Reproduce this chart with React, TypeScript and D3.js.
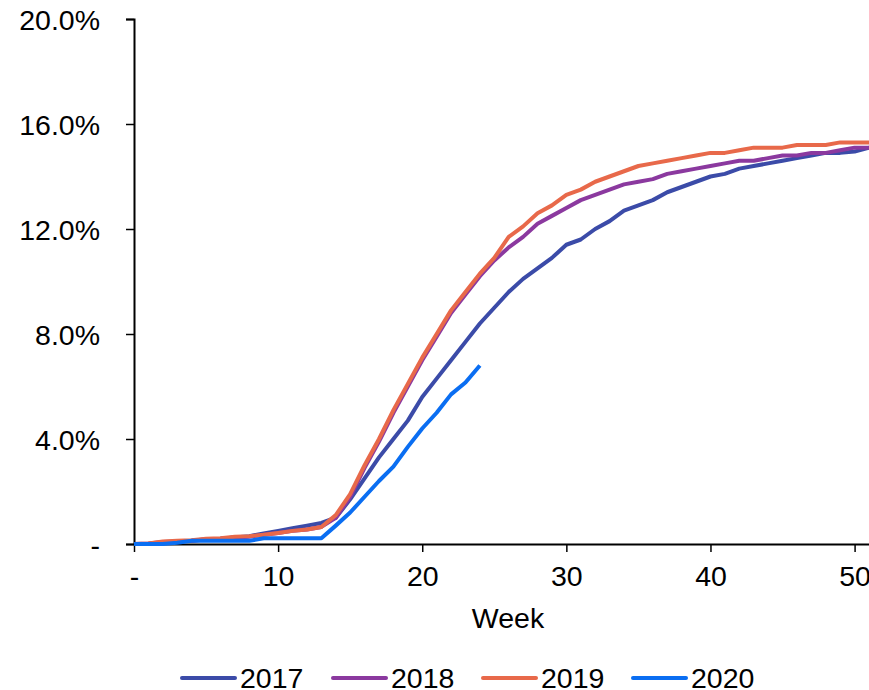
import React, { useEffect, useRef } from "react";
import * as d3 from "d3";

// Cumulative share (%) by week of year
const weeks2017 = d3.range(0, 52);
const values2017 = [0, 0, 0.05, 0.1, 0.12, 0.17, 0.2, 0.25, 0.3, 0.4, 0.5, 0.6, 0.7, 0.8, 1.0, 1.7, 2.5, 3.3, 4.0, 4.7, 5.6, 6.3, 7.0, 7.7, 8.4, 9.0, 9.6, 10.1, 10.5, 10.9, 11.4, 11.6, 12.0, 12.3, 12.7, 12.9, 13.1, 13.4, 13.6, 13.8, 14.0, 14.1, 14.3, 14.4, 14.5, 14.6, 14.7, 14.8, 14.9, 14.9, 14.95, 15.1];
const values2018 = [0, 0.02, 0.08, 0.1, 0.12, 0.18, 0.2, 0.25, 0.28, 0.35, 0.42, 0.5, 0.55, 0.65, 1.0, 1.8, 2.9, 3.9, 5.0, 6.0, 7.0, 7.9, 8.8, 9.5, 10.2, 10.8, 11.3, 11.7, 12.2, 12.5, 12.8, 13.1, 13.3, 13.5, 13.7, 13.8, 13.9, 14.1, 14.2, 14.3, 14.4, 14.5, 14.6, 14.6, 14.7, 14.8, 14.8, 14.9, 14.9, 15.0, 15.1, 15.1];
const values2019 = [0, 0.02, 0.1, 0.12, 0.14, 0.2, 0.22, 0.28, 0.3, 0.35, 0.42, 0.5, 0.55, 0.65, 1.1, 1.9, 3.0, 4.0, 5.1, 6.1, 7.1, 8.0, 8.9, 9.6, 10.3, 10.9, 11.7, 12.1, 12.6, 12.9, 13.3, 13.5, 13.8, 14.0, 14.2, 14.4, 14.5, 14.6, 14.7, 14.8, 14.9, 14.9, 15.0, 15.1, 15.1, 15.1, 15.2, 15.2, 15.2, 15.3, 15.3, 15.3];
const values2020 = [0, 0, 0, 0.05, 0.12, 0.12, 0.12, 0.12, 0.12, 0.22, 0.22, 0.22, 0.22, 0.22, 0.7, 1.2, 1.8, 2.4, 2.95, 3.7, 4.4, 5.0, 5.7, 6.15, 6.8];

const seriesNames = ["2017", "2018", "2019", "2020"];
const seriesValues = [values2017, values2018, values2019, values2020];
const seriesColors = ["#3B4BA8", "#8B399F", "#E8694A", "#0A6EF2"];

const yTicks = [0, 4, 8, 12, 16, 20];
const xTicks = [0, 10, 20, 30, 40, 50];
const xTitle = "Week";

const W = 869;
const H = 690;
const FONT = "'Liberation Sans', Arial, sans-serif";

export default function App() {
  const ref = useRef<SVGSVGElement | null>(null);

  useEffect(() => {
    const svg = d3.select(ref.current);
    svg.selectAll("*").remove();

    const x = d3.scaleLinear().domain([0, 51]).range([134, 869]);
    const y = d3.scaleLinear().domain([0, 20]).range([544, 19]);

    // y axis
    const yAxis = d3
      .axisLeft(y)
      .tickValues(yTicks)
      .tickSize(8)
      .tickPadding(26)
      .tickFormat((d) => ((d as number) === 0 ? "-" : (d as number).toFixed(1) + "%"));
    const gy = svg.append("g").attr("transform", `translate(${x(0)},0)`).call(yAxis);
    gy.select(".domain").attr("stroke", "#000").attr("stroke-width", 2);
    gy.selectAll(".tick line").attr("stroke", "#000").attr("stroke-width", 1.5);
    gy.selectAll(".tick text")
      .attr("font-family", FONT)
      .attr("font-size", 28.5)
      .attr("fill", "#000")
      .attr("dy", "0.36em");

    // x axis
    const xAxis = d3
      .axisBottom(x)
      .tickValues(xTicks)
      .tickSize(8)
      .tickSizeOuter(0)
      .tickPadding(14)
      .tickFormat((d) => ((d as number) === 0 ? "-" : String(d)));
    const gx = svg.append("g").attr("transform", `translate(0,${y(0)})`).call(xAxis);
    gx.select(".domain").attr("stroke", "#000").attr("stroke-width", 2);
    gx.selectAll(".tick line").attr("stroke", "#000").attr("stroke-width", 1.5);
    gx.selectAll(".tick text")
      .attr("font-family", FONT)
      .attr("font-size", 28.5)
      .attr("fill", "#000");

    svg
      .append("text")
      .attr("x", 508)
      .attr("y", 628)
      .attr("text-anchor", "middle")
      .attr("font-family", FONT)
      .attr("font-size", 28.5)
      .attr("fill", "#000")
      .text(xTitle);

    // lines
    const line = d3
      .line<number>()
      .x((_, i) => x(weeks2017[i]))
      .y((d) => y(d));

    seriesValues.forEach((vals, i) => {
      svg
        .append("path")
        .datum(vals)
        .attr("d", line)
        .attr("fill", "none")
        .attr("stroke", seriesColors[i])
        .attr("stroke-width", 4)
        .attr("stroke-linejoin", "round");
    });

    // legend
    const legendX = [182, 333, 483, 633];
    const lg = svg.append("g");
    seriesNames.forEach((name, i) => {
      const g = lg.append("g").attr("transform", `translate(${legendX[i]},678)`);
      g.append("line")
        .attr("x1", 0)
        .attr("x2", 53)
        .attr("y1", 0)
        .attr("y2", 0)
        .attr("stroke", seriesColors[i])
        .attr("stroke-width", 4)
        .attr("stroke-linecap", "round");
      g.append("text")
        .attr("x", 58)
        .attr("y", 10)
        .attr("font-family", FONT)
        .attr("font-size", 28.5)
        .attr("fill", "#000")
        .text(name);
    });
  }, []);

  return (
    <svg
      ref={ref}
      width={W}
      height={H}
      style={{ position: "absolute", left: 0, top: 0, background: "#fff" }}
    />
  );
}
